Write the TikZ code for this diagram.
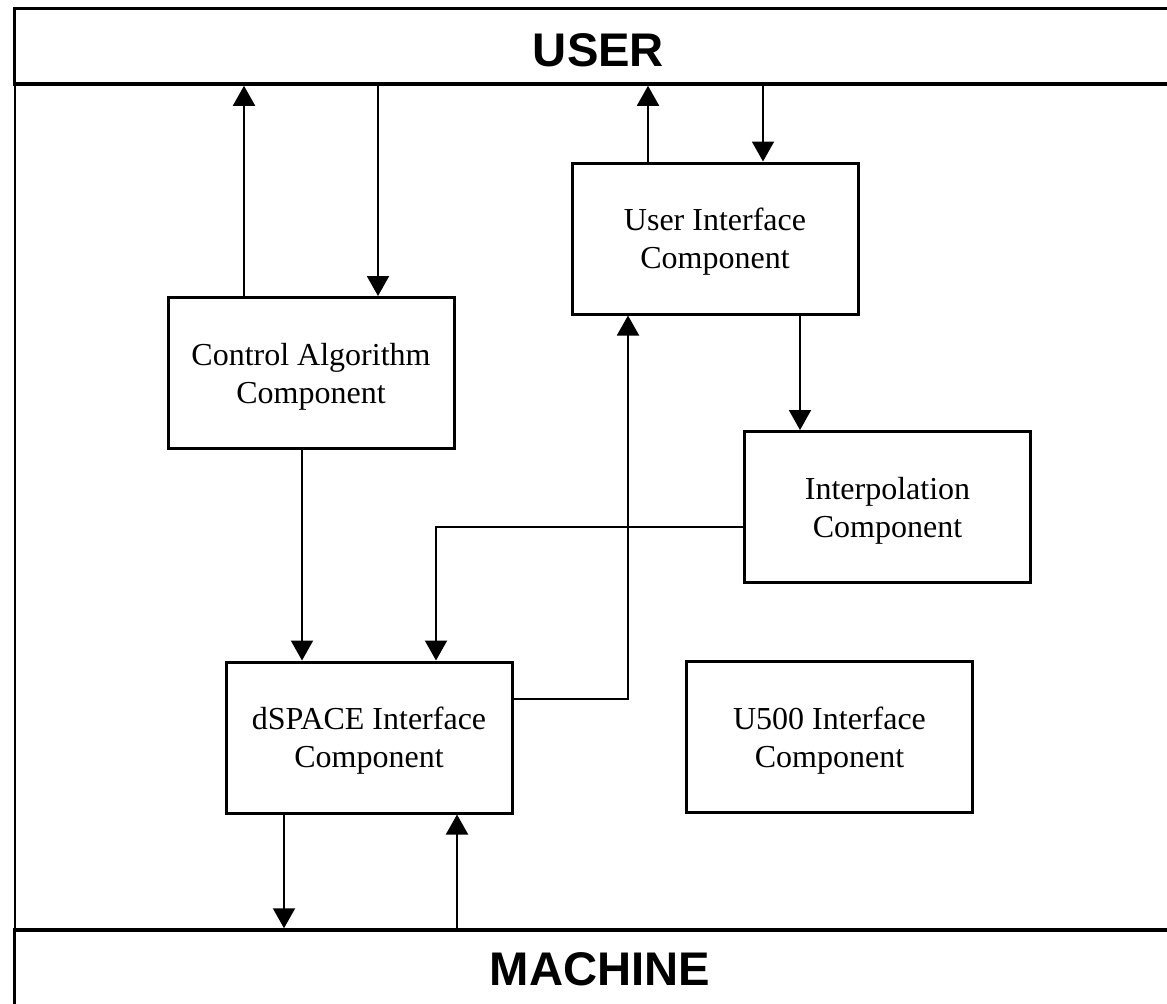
\documentclass[tikz,border=0pt]{standalone}
\usepackage{fontspec}
\setmainfont{Liberation Serif}
\newfontfamily\bandfont{Liberation Sans}
\usetikzlibrary{arrows.meta}

\begin{document}
\begin{tikzpicture}[x=0.5pt, y=-0.5pt, >={Triangle[width=11pt,length=10pt]},
  comp/.style={draw, line width=1.5pt, minimum width=143pt, minimum height=75.5pt,
    align=center, text depth=-2pt, font=\fontsize{16}{19}\selectfont},
  band/.style={draw, fill=white, line width=1.75pt, minimum width=582.75pt},
  bandtext/.style={font=\bandfont\bfseries\fontsize{23.6}{28}\selectfont},
  flow/.style={->, line width=1pt}]
  \useasboundingbox (0,0) rectangle (1167,1003);

  % Frame
  \draw[line width=1pt] (14.5,9) rectangle (1180,1010);

  % User and machine bands
  \node[band, minimum height=37.85pt] (user) at (597.25,46.2) {};
  \node[bandtext] (usertext) at (598.5,50) {USER};
  \node[band, minimum height=45pt] (machine) at (597.25,975) {};
  \node[bandtext] (machinetext) at (600,969) {MACHINE};

  % Components
  \node[comp] (ctrl) at (311,373) {Control Algorithm\\Component};
  \node[comp] (ui) at (715,238.5) {User Interface\\Component};
  \node[comp] (interp) at (887.5,507) {Interpolation\\Component};
  \node[comp] (dspace) at (369,737.5) {dSPACE Interface\\Component};
  \node[comp] (uf) at (829.5,737) {U500 Interface\\Component};

  % Columns of the connectors
  \coordinate (c1) at (244,0);
  \coordinate (c2) at (378,0);
  \coordinate (c3) at (648,0);
  \coordinate (c4) at (763,0);
  \coordinate (c5) at (800,0);
  \coordinate (c6) at (302,0);
  \coordinate (c7) at (284,0);
  \coordinate (c8) at (457,0);
  \coordinate (k1) at (436,527);
  \coordinate (k2) at (628,699);

  % Connectors
  \draw[flow] (ctrl.north -| c1) -- (user.south -| c1);
  \draw[flow] (user.south -| c2) -- (ctrl.north -| c2);
  \draw[flow] (ui.north -| c3) -- (user.south -| c3);
  \draw[flow] (user.south -| c4) -- (ui.north -| c4);
  \draw[flow] (ui.south -| c5) -- (interp.north -| c5);
  \draw[flow] (ctrl.south -| c6) -- (dspace.north -| c6);
  \draw[flow] (interp.west |- k1) -- (k1) -- (dspace.north -| k1);
  \draw[flow] (dspace.east |- k2) -- (k2) -- (ui.south -| k2);
  \draw[flow] (dspace.south -| c7) -- (machine.north -| c7);
  \draw[flow] (machine.north -| c8) -- (dspace.south -| c8);
\end{tikzpicture}
\end{document}
